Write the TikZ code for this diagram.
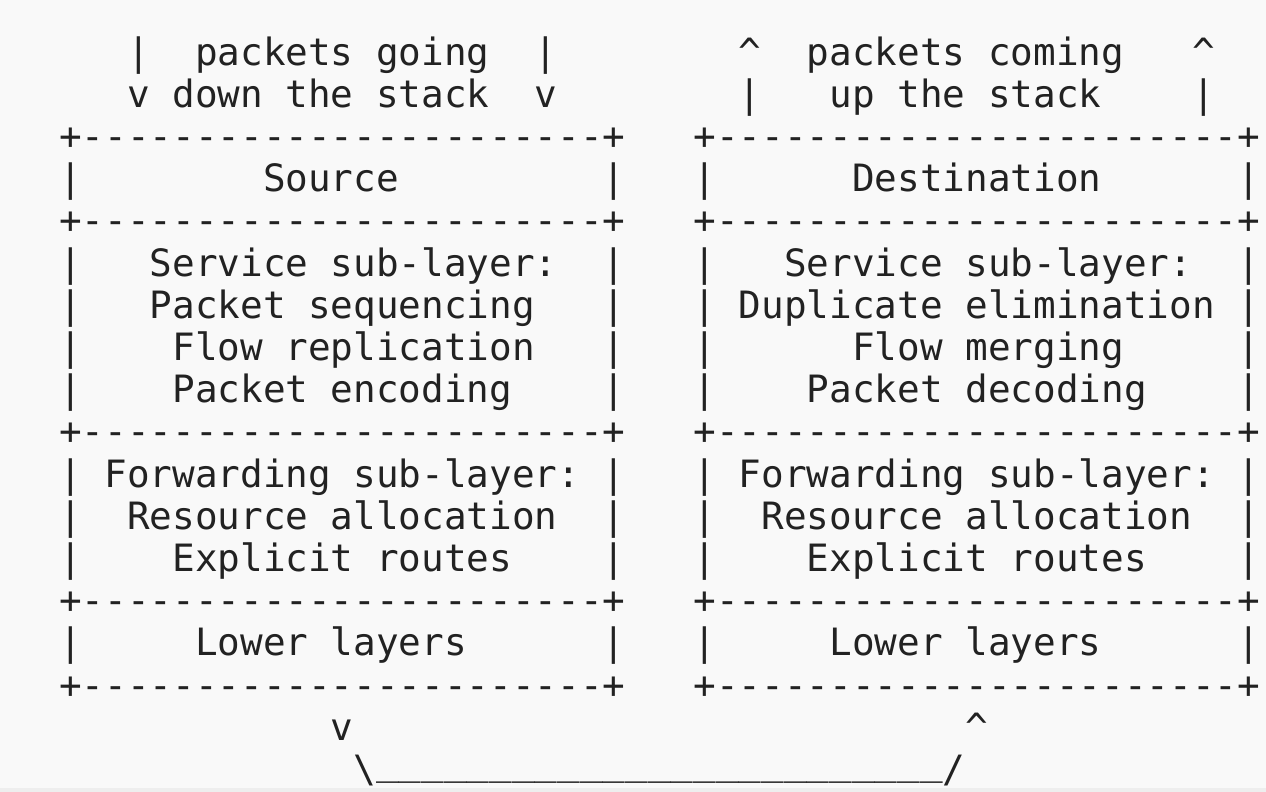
\documentclass[tikz,border=0pt]{standalone}
\usepackage{fontspec}
\usetikzlibrary{positioning}
\newfontfamily\asciifont{DejaVu Sans Mono}[Ligatures=TeXOff]
\definecolor{paper}{HTML}{F9F9F9}
\definecolor{ink}{HTML}{222222}
\definecolor{strip}{HTML}{EEEEEE}
\newcommand{\boxedge}{+-----------------------+}
\tikzset{txt/.style={font={\asciifont\fontsize{18.82pt}{21pt}\selectfont}, text=ink, inner sep=0pt, anchor=base west}}
\begin{document}
\begin{tikzpicture}[x=11.33pt,y=-21.1pt]
        \fill[paper] (-35pt,11.45pt) rectangle (598pt,-384.55pt);
        \node[txt] (go_l)  at (2.5,1)  {|};
        \node[txt] (go_t)  at (5.5,1)  {packets going};
        \node[txt] (go_r)  at (20.5,1) {|};
        \node[txt] (dn_l)  at (2.5,2)  {v};
        \node[txt] (dn_t)  at (4.5,2)  {down the stack};
        \node[txt] (dn_r)  at (20.5,2) {v};
        \node[txt] (co_l)  at (29.5,1) {\textasciicircum};
        \node[txt] (co_t)  at (32.5,1) {packets coming};
        \node[txt] (co_r)  at (49.5,1) {\textasciicircum};
        \node[txt] (up_l)  at (29.5,2) {|};
        \node[txt] (up_t)  at (33.5,2) {up the stack};
        \node[txt] (up_r)  at (49.5,2) {|};
        \foreach \r in {3,5,10,14,16} {
            \node[txt] (edge_l\r) at (-0.5,\r) {\boxedge};
            \node[txt] (edge_r\r) at (27.5,\r) {\boxedge};
        }
        \foreach \r in {4,6,7,8,9,11,12,13,15}
            \foreach \c in {0,24,28,52}
                \node[txt] (bar_\c_\r) at (\c-0.5,\r) {|};
        \node[txt] (src)   at (8.5,4)  {Source};
        \node[txt] (dst)   at (34.5,4) {Destination};
        \node[txt] (srv_l) at (3.5,6)  {Service sub-layer:};
        \node[txt] (srv_r) at (31.5,6) {Service sub-layer:};
        \node[txt] (seq)   at (3.5,7)  {Packet sequencing};
        \node[txt] (dup)   at (29.5,7) {Duplicate elimination};
        \node[txt] (rep)   at (4.5,8)  {Flow replication};
        \node[txt] (mrg)   at (34.5,8) {Flow merging};
        \node[txt] (enc)   at (4.5,9)  {Packet encoding};
        \node[txt] (dec)   at (32.5,9) {Packet decoding};
        \node[txt] (fwd_l) at (1.5,11) {Forwarding sub-layer:};
        \node[txt] (fwd_r) at (29.5,11) {Forwarding sub-layer:};
        \node[txt] (res_l) at (2.5,12) {Resource allocation};
        \node[txt] (res_r) at (30.5,12) {Resource allocation};
        \node[txt] (rte_l) at (4.5,13) {Explicit routes};
        \node[txt] (rte_r) at (32.5,13) {Explicit routes};
        \node[txt] (low_l) at (5.5,15) {Lower layers};
        \node[txt] (low_r) at (33.5,15) {Lower layers};
        \node[txt] (out)   at (11.5,17) {v};
        \node[txt] (in)    at (39.5,17) {\textasciicircum};
        \node[txt] (link)  at (12.5,18) {\textbackslash\raisebox{4pt}{\_\_\_\_\_\_\_\_\_\_\_\_\_\_\_\_\_\_\_\_\_\_\_\_\_}/};
        \fill[strip] (-35pt,-382.55pt) rectangle (598pt,-384.55pt);
\end{tikzpicture}
\end{document}
